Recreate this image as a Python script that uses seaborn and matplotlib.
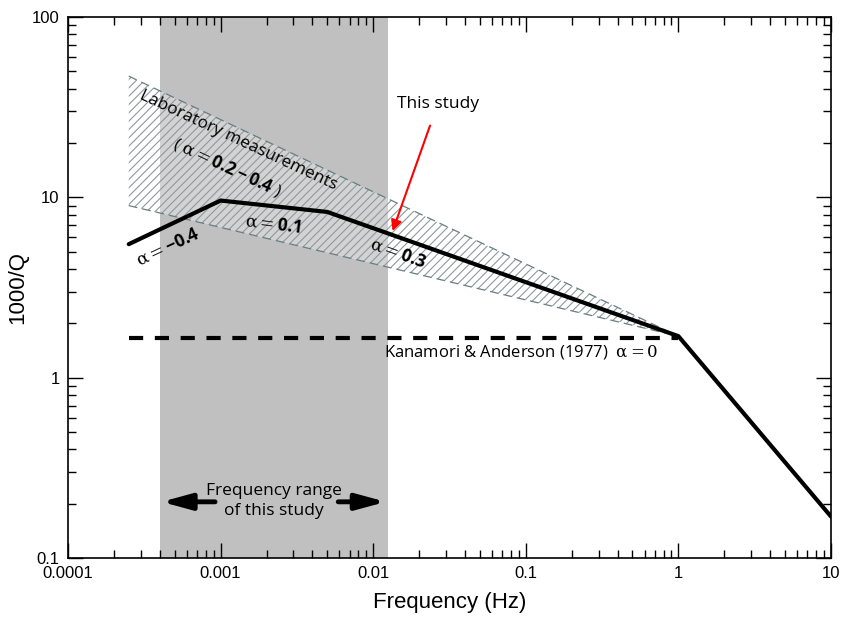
import numpy as np
import seaborn as sns
import matplotlib.pyplot as plt
from matplotlib.ticker import FixedLocator, FixedFormatter, LogLocator, NullFormatter

# model of this study (piecewise power law)
FREQ_MODEL = [0.00025, 0.001, 0.005, 1.0, 10.0]
Q_MODEL = [5.5, 9.6, 8.3, 1.7, 0.17]

# Kanamori & Anderson (1977), alpha = 0
FREQ_KA = [0.00025, 1.0]
Q_KA = [1.67, 1.67]

# laboratory band (alpha = 0.2 - 0.4)
FREQ_LAB = [0.00025, 1.0]
Q_LAB_UPPER = [47.0, 1.7]
Q_LAB_LOWER = [9.0, 1.7]

# frequency range of this study
STUDY_RANGE = [0.0004, 0.0125]

X_TICKS = [0.0001, 0.001, 0.01, 0.1, 1, 10]
X_LABELS = ["0.0001", "0.001", "0.01", "0.1", "1", "10"]
Y_TICKS = [0.1, 1, 10, 100]
Y_LABELS = ["0.1", "1", "10", "100"]

ANNOT_FONT = ["Open Sans", "DejaVu Sans"]


def main():
    sns.set_style("ticks")
    plt.rcParams["font.family"] = ["Liberation Sans", "DejaVu Sans"]
    plt.rcParams["text.color"] = "black"
    plt.rcParams["axes.labelcolor"] = "black"
    plt.rcParams["mathtext.fontset"] = "custom"
    plt.rcParams["mathtext.rm"] = "DejaVu Serif"
    plt.rcParams["mathtext.bf"] = "Open Sans:bold"
    plt.rcParams["mathtext.it"] = "Open Sans:italic"
    plt.rcParams["hatch.linewidth"] = 0.8

    fig = plt.figure(figsize=(8.43, 6.18), dpi=100)
    ax = fig.add_axes([0.0807, 0.097, 0.905, 0.8755])
    ax.set_xscale("log")
    ax.set_yscale("log")

    # gray study band
    ax.axvspan(STUDY_RANGE[0], STUDY_RANGE[1], color="#c0c0c0", lw=0, zorder=0)

    # laboratory hatched band
    poly_x = FREQ_LAB + FREQ_LAB[::-1]
    poly_y = Q_LAB_UPPER + Q_LAB_LOWER[::-1]
    ax.fill(poly_x, poly_y, facecolor="white", alpha=0.3, lw=0, zorder=1)
    ax.fill(poly_x, poly_y, facecolor="none", edgecolor="#8e9a9a", hatch="////", lw=0, zorder=1)
    for q_edge in (Q_LAB_UPPER, Q_LAB_LOWER):
        sns.lineplot(x=FREQ_LAB, y=q_edge, ax=ax, color="#6a7e7e", lw=0.9,
                     linestyle=(0, (7, 4)), zorder=2)

    # Kanamori & Anderson
    sns.lineplot(x=FREQ_KA, y=Q_KA, ax=ax, color="black", lw=3,
                 linestyle=(0, (3.4, 2.8)), zorder=3)
    # this study
    sns.lineplot(x=FREQ_MODEL, y=Q_MODEL, ax=ax, color="black", lw=3, zorder=4)

    # annotations
    ax.text(0.0013, 20.7, "Laboratory measurements", rotation=-25, ha="center", va="center",
            fontsize=12.5, family=ANNOT_FONT, rotation_mode="anchor")
    ax.text(0.0011, 14.7, r"( $\mathrm{\alpha} = \mathbf{0.2 - 0.4}$ )", rotation=-25,
            ha="center", va="center", fontsize=12.5, rotation_mode="anchor",
            family=ANNOT_FONT)
    ax.text(0.00045, 5.3, r"$\mathrm{\alpha} = \mathbf{-0.4}$", rotation=25,
            ha="center", va="center", fontsize=12.5, rotation_mode="anchor")
    ax.text(0.0022, 7.1, r"$\mathrm{\alpha} = \mathbf{0.1}$", rotation=-7,
            ha="center", va="center", fontsize=12.5, rotation_mode="anchor")
    ax.text(0.0145, 4.95, r"$\mathrm{\alpha} = \mathbf{0.3}$", rotation=-20,
            ha="center", va="center", fontsize=12.5, rotation_mode="anchor")
    ax.text(0.093, 1.38, r"Kanamori & Anderson (1977)  $\mathrm{\alpha} = 0$",
            ha="center", va="center", fontsize=12, family=ANNOT_FONT)

    ax.annotate("This study", xy=(0.0134, 6.5), xytext=(0.0265, 33),
                ha="center", va="center", fontsize=12.5, family=ANNOT_FONT,
                arrowprops=dict(arrowstyle="-|>", color="red", lw=1.5,
                                mutation_scale=16, shrinkA=8, shrinkB=0))

    ax.text(0.00223, 0.2355, "Frequency range", ha="center", va="center",
            fontsize=12.5, family=ANNOT_FONT)
    ax.text(0.00223, 0.1824, "of this study", ha="center", va="center",
            fontsize=12.5, family=ANNOT_FONT)
    ax.annotate("", xy=(0.00041, 0.205), xytext=(0.00092, 0.205),
                arrowprops=dict(arrowstyle="-|>,head_length=1.1,head_width=0.3",
                                color="black", lw=3.5, mutation_scale=16,
                                shrinkA=0, shrinkB=0))
    ax.annotate("", xy=(0.0121, 0.205), xytext=(0.0059, 0.205),
                arrowprops=dict(arrowstyle="-|>,head_length=1.1,head_width=0.3",
                                color="black", lw=3.5, mutation_scale=16,
                                shrinkA=0, shrinkB=0))

    # axes
    ax.set_xlim(0.0001, 10)
    ax.set_ylim(0.1, 100)
    ax.xaxis.set_major_locator(FixedLocator(X_TICKS))
    ax.xaxis.set_major_formatter(FixedFormatter(X_LABELS))
    ax.yaxis.set_major_locator(FixedLocator(Y_TICKS))
    ax.yaxis.set_major_formatter(FixedFormatter(Y_LABELS))
    ax.xaxis.set_minor_locator(LogLocator(base=10, subs=np.arange(2, 10), numticks=20))
    ax.yaxis.set_minor_locator(LogLocator(base=10, subs=np.arange(2, 10), numticks=20))
    ax.xaxis.set_minor_formatter(NullFormatter())
    ax.yaxis.set_minor_formatter(NullFormatter())
    ax.tick_params(which="both", direction="in", top=True, right=True, width=1,
                   colors="black", labelcolor="black")
    ax.tick_params(which="major", length=11, labelsize=12, pad=6)
    ax.tick_params(which="minor", length=6)
    for s in ax.spines.values():
        s.set_linewidth(1.2)
        s.set_color("black")

    ax.set_xlabel("Frequency (Hz)", fontsize=16, labelpad=8)
    ax.set_ylabel("1000/Q", fontsize=16, labelpad=3)

    fig.savefig("out.png", dpi=100)


if __name__ == "__main__":
    main()
